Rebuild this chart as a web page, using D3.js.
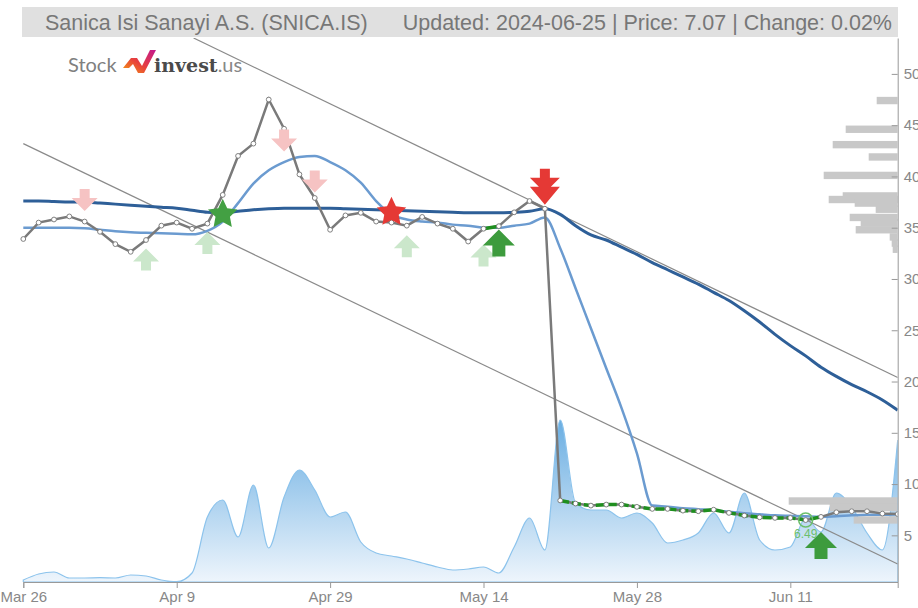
<!DOCTYPE html>
<html>
<head>
<meta charset="utf-8">
<script src="https://cdn.jsdelivr.net/npm/d3@7"></script>
<style>
    body { margin: 0; background: #fff; }
    svg { display: block; font-family: "Liberation Sans", Arial, sans-serif; }
    .axis path, .axis line { stroke: #999; }
    .axis text { fill: #888; font-size: 15px; }
</style>
</head>
<body>
<svg id="chart" width="918" height="608"></svg>
<script>
var dates = ["2024-03-26","2024-03-27","2024-03-28","2024-03-29","2024-04-01","2024-04-02","2024-04-03","2024-04-04","2024-04-05","2024-04-08",
    "2024-04-09","2024-04-15","2024-04-16","2024-04-17","2024-04-18","2024-04-19","2024-04-22","2024-04-24","2024-04-25","2024-04-26",
    "2024-04-29","2024-04-30","2024-05-02","2024-05-03","2024-05-06","2024-05-07","2024-05-08","2024-05-09","2024-05-10","2024-05-13",
    "2024-05-14","2024-05-15","2024-05-16","2024-05-17","2024-05-20","2024-05-21","2024-05-22","2024-05-23","2024-05-24","2024-05-27",
    "2024-05-28","2024-05-29","2024-05-30","2024-05-31","2024-06-03","2024-06-04","2024-06-05","2024-06-06","2024-06-07","2024-06-10",
    "2024-06-11","2024-06-12","2024-06-13","2024-06-14","2024-06-20","2024-06-21","2024-06-24","2024-06-25"];

var close = [33.9, 35.5, 35.8, 36.1, 35.6, 34.6, 33.4, 32.65, 33.8, 35.2,
    35.5, 34.9, 35.4, 38.2, 42.0, 43.2, 47.5, 44.65, 40.2, 37.9,
    34.8, 36.2, 36.45, 35.6, 35.5, 35.2, 36.05, 35.4, 34.9, 33.65,
    34.9, 35.15, 36.5, 37.6, 36.85, 8.4, 8.1, 7.9, 8.0, 8.0,
    7.78, 7.58, 7.58, 7.41, 7.35, 7.5, 7.19, 6.93, 6.76, 6.7,
    6.7, 6.49, 6.8, 7.25, 7.35, 7.35, 7.12, 7.07];

var maShort = [35.0, 35.0, 35.0, 35.0, 34.95, 34.8, 34.65, 34.55, 34.5, 34.45,
    34.4, 34.35, 34.7, 35.6, 37.4, 39.3, 40.6, 41.4, 41.9, 42.0,
    41.4, 40.6, 39.4, 37.6, 36.3, 35.8, 35.6, 35.5, 35.3, 35.2,
    35.0, 35.0, 35.2, 35.4, 36.0, 33.0, 29.1, 25.2, 21.3, 17.4,
    13.0, 7.9, 7.8, 7.65, 7.55, 7.45, 7.3, 7.15, 7.05, 6.95,
    6.9, 6.85, 6.8, 6.85, 6.95, 7.0, 7.0, 7.05];

var maLong = [37.6, 37.6, 37.55, 37.5, 37.5, 37.4, 37.3, 37.2, 37.1, 37.0,
    36.9, 36.7, 36.5, 36.45, 36.6, 36.75, 36.85, 36.9, 36.9, 36.9,
    36.9, 36.85, 36.8, 36.75, 36.7, 36.65, 36.6, 36.55, 36.5, 36.45,
    36.45, 36.45, 36.5, 36.6, 36.85, 36.3, 35.2, 34.3, 33.8, 33.1,
    32.4, 31.6, 30.9, 30.2, 29.5, 28.7, 27.9, 26.9, 25.8, 24.6,
    23.5, 22.5, 21.4, 20.5, 19.7, 19.0, 18.2, 17.2];

// volume, thousands
var volume = [20, 80, 100, 40, 40, 43, 40, 70, 60, 20,
    3, 90, 650, 820, 450, 970, 340, 850, 1120, 920,
    650, 700, 400, 290, 260, 230, 190, 150, 120, 130,
    150, 90, 350, 640, 320, 1620, 790, 720, 720, 640,
    690, 590, 390, 420, 490, 690, 490, 890, 420, 320,
    350, 640, 500, 890, 750, 490, 320, 1420];

// price-volume profile
var profilePrice = [47.4, 44.6, 43.1, 41.9, 40.1, 38.1, 37.75, 37.4, 36.8, 36.0, 35.5, 34.8, 34.1, 33.5, 32.9, 8.35, 7.7, 6.5];
var profileVol = [21, 52, 65, 29, 74, 55, 69, 43, 22, 48, 37, 42, 8, 6, 5, 109, 68, 44];

// trend channel: [start index, start value, end index, end value]
var channelTop = [11.1, 53.5, 57, 20.4];
var channelBottom = [0, 43.2, 57, 2.2];

// green highlighted stretches of the close line: [from index, to index]
var greenRuns = [[30, 31], [35, 52]];

var sellIdx = [4, 17, 19], sellLevel = [37.7, 43.5, 39.5];
var buyIdx = [8, 12, 25, 30], buyLevel = [31.9, 33.5, 33.2, 32.3];
var strongBuyIdx = [31, 52], strongBuyLevel = [33.5, 4.0];
var strongSellIdx = [34], strongSellLevel = [39.0];
var starIdx = [13, 24], starLevel = [36.4, 36.6], starKind = ["buy", "sell"];
var lowIdx = 51;

var yTicks = [5, 10, 15, 20, 25, 30, 35, 40, 45, 50];

(function() {
    var plot = { left: 23.3, right: 897.7, top: 38, bottom: 582 };
    var svg = d3.select("#chart");

    var x = d3.scalePoint().domain(dates).range([plot.left, plot.right]);
    var y = d3.scaleLinear().domain([0.45, 53.5]).range([plot.bottom, plot.top]);
    var yVol = d3.scaleLinear().domain([0, 3500]).range([plot.bottom, plot.bottom - 350]);
    var xi = function(i) { return x(dates[0]) + i * x.step(); };

    var parse = d3.timeParse("%Y-%m-%d");
    var fmt = d3.timeFormat("%b %-d");

    var defs = svg.append("defs");
    defs.append("clipPath").attr("id", "plot-clip")
        .append("rect")
        .attr("x", 0).attr("y", plot.top)
        .attr("width", plot.right).attr("height", plot.bottom - plot.top);

    var grad = defs.append("linearGradient")
        .attr("id", "vol-grad")
        .attr("gradientUnits", "userSpaceOnUse")
        .attr("x1", 0).attr("x2", 0)
        .attr("y1", yVol(1620)).attr("y2", plot.bottom);
    grad.append("stop").attr("offset", 0).attr("stop-color", "#6aaee2");
    grad.append("stop").attr("offset", 1).attr("stop-color", "#eef5fc");

    // title bar
    svg.append("rect")
        .attr("x", 22).attr("y", 7)
        .attr("width", 876).attr("height", 30)
        .attr("fill", "#e0e0e0");
    svg.append("text")
        .attr("x", 45).attr("y", 29.5)
        .attr("fill", "#777")
        .style("font-size", "21.5px")
        .text("Sanica Isi Sanayi A.S. (SNICA.IS)");
    svg.append("text")
        .attr("x", 892).attr("y", 29.5)
        .attr("text-anchor", "end")
        .attr("fill", "#777")
        .style("font-size", "21.5px")
        .text("Updated: 2024-06-25 | Price: 7.07 | Change: 0.02%");

    // logo
    var logo = svg.append("g").attr("class", "logo");
    logo.append("text")
        .attr("x", 68).attr("y", 72)
        .attr("fill", "#808080")
        .style("font-family", "Lato, 'Open Sans', sans-serif")
        .style("font-size", "20px")
        .text("Stock");
    var logoGrad = defs.append("linearGradient").attr("id", "logo-grad")
        .attr("x1", 0).attr("x2", 1).attr("y1", 1).attr("y2", 0);
    logoGrad.append("stop").attr("offset", 0).attr("stop-color", "#f39c12");
    logoGrad.append("stop").attr("offset", 0.45).attr("stop-color", "#e8413c");
    logoGrad.append("stop").attr("offset", 1).attr("stop-color", "#c2188f");
    logo.append("path")
        .attr("d", "M123,68L131,58L137,58L142,66L150,50L156,50L144,73L138,73L133,64L129,68Z")
        .attr("fill", "url(#logo-grad)");
    logo.append("text")
        .attr("x", 154).attr("y", 72)
        .attr("fill", "#4a4a4a")
        .style("font-family", "'DejaVu Serif', serif")
        .style("font-weight", "bold")
        .style("font-size", "19px")
        .text("invest")
        .append("tspan")
        .attr("fill", "#888")
        .style("font-weight", "normal")
        .style("font-family", "Lato, sans-serif")
        .style("font-size", "20px")
        .text(".us");

    var layer = svg.append("g").attr("clip-path", "url(#plot-clip)");

    // volume area
    var area = d3.area()
        .x(function(d, i) { return xi(i); })
        .y0(plot.bottom)
        .y1(function(d) { return yVol(d); })
        .curve(d3.curveMonotoneX);
    layer.append("path")
        .datum(volume)
        .attr("d", area)
        .attr("fill", "url(#vol-grad)")
        .attr("stroke", "#8cc3ec")
        .attr("stroke-width", 1.2);

    // price profile bars
    var barH = y(0) - y(0.72);
    layer.selectAll(".profile")
        .data(profilePrice)
        .enter().append("rect")
        .attr("class", "profile")
        .attr("x", function(d, i) { return plot.right - profileVol[i]; })
        .attr("y", function(d) { return y(d) - barH / 2; })
        .attr("width", function(d, i) { return profileVol[i]; })
        .attr("height", barH)
        .attr("fill", "#c8c8c8");

    // trend channel
    [channelTop, channelBottom].forEach(function(c) {
        layer.append("line")
            .attr("x1", xi(c[0])).attr("y1", y(c[1]))
            .attr("x2", xi(c[2])).attr("y2", y(c[3]))
            .attr("stroke", "#8a8a8a")
            .attr("stroke-width", 1.2);
    });

    var lineOf = function(values) {
        return d3.line()
            .x(function(d, i) { return xi(i); })
            .y(function(d) { return y(d); })
            .curve(d3.curveMonotoneX)(values);
    };

    layer.append("path")
        .attr("d", lineOf(maLong))
        .attr("fill", "none")
        .attr("stroke", "#2e5f98")
        .attr("stroke-width", 3);

    layer.append("path")
        .attr("d", lineOf(maShort))
        .attr("fill", "none")
        .attr("stroke", "#6b9bd0")
        .attr("stroke-width", 2.5);

    var priceLine = d3.line()
        .x(function(d, i) { return xi(i); })
        .y(function(d) { return y(d); });
    layer.append("path")
        .attr("d", priceLine(close))
        .attr("fill", "none")
        .attr("stroke", "#7a7a7a")
        .attr("stroke-width", 2.5);

    greenRuns.forEach(function(run) {
        var pts = [];
        for (var i = run[0]; i <= run[1]; i++) pts.push([xi(i), y(close[i])]);
        layer.append("path")
            .attr("d", d3.line()(pts))
            .attr("fill", "none")
            .attr("stroke", "#1f8f1f")
            .attr("stroke-width", 3.5)
            .attr("stroke-dasharray", run[1] - run[0] > 2 ? "9,3" : null);
    });

    layer.selectAll(".pt")
        .data(close)
        .enter().append("circle")
        .attr("class", "pt")
        .attr("cx", function(d, i) { return xi(i); })
        .attr("cy", function(d) { return y(d); })
        .attr("r", 2.4)
        .attr("fill", "#fff")
        .attr("stroke", "#808080")
        .attr("stroke-width", 1);

    // signal markers
    function arrowPath(w, h, hh, sw) {
        var t = -h / 2, b = h / 2, m = t + hh;
        return "M0," + t + "L" + (w / 2) + "," + m + "L" + (sw / 2) + "," + m +
            "L" + (sw / 2) + "," + b + "L" + (-sw / 2) + "," + b +
            "L" + (-sw / 2) + "," + m + "L" + (-w / 2) + "," + m + "Z";
    }
    function starPath(outer, inner) {
        var pts = [];
        for (var k = 0; k < 10; k++) {
            var r = k % 2 ? inner : outer;
            var a = Math.PI * k / 5 - Math.PI / 2;
            pts.push([r * Math.cos(a), r * Math.sin(a)]);
        }
        return d3.line()(pts) + "Z";
    }
    var marks = svg.append("g").attr("class", "marks");

    function addArrows(idx, lvl, color, down, dims) {
        idx.forEach(function(i, k) {
            marks.append("path")
                .attr("d", arrowPath(dims[0], dims[1], dims[2], dims[3]))
                .attr("transform", "translate(" + xi(i) + "," + y(lvl[k]) + ")" + (down ? " scale(1,-1)" : ""))
                .attr("fill", color);
        });
    }
    addArrows(sellIdx, sellLevel, "#f6c3c3", true, [26, 22, 13, 10]);
    addArrows(buyIdx, buyLevel, "#cbe7cb", false, [26, 22, 13, 10]);
    addArrows(strongBuyIdx, strongBuyLevel, "#3d9b3d", false, [32, 27, 16, 13]);

    strongSellIdx.forEach(function(i, k) {
        marks.append("path")
            .attr("d", "M-5,-18L5,-18L5,-9L15,-9L6,0L15,0L0,18L-15,0L-6,0L-15,-9L-5,-9Z")
            .attr("transform", "translate(" + xi(i) + "," + y(strongSellLevel[k]) + ")")
            .attr("fill", "#e53935");
    });

    starIdx.forEach(function(i, k) {
        marks.append("path")
            .attr("d", starPath(15.5, 7.6))
            .attr("transform", "translate(" + xi(i) + "," + (y(starLevel[k]) + 1) + ")")
            .attr("fill", starKind[k] === "buy" ? "#43a043" : "#e53935");
    });

    marks.append("circle")
        .attr("cx", xi(lowIdx)).attr("cy", y(close[lowIdx]))
        .attr("r", 7)
        .attr("fill", "none")
        .attr("stroke", "#6cbf6c")
        .attr("stroke-width", 1.5);
    marks.append("text")
        .attr("x", xi(lowIdx)).attr("y", y(close[lowIdx]) + 18)
        .attr("text-anchor", "middle")
        .attr("fill", "#6cbf6c")
        .style("font-size", "12px")
        .text(d3.format(".2f")(close[lowIdx]));

    // axes
    svg.append("g")
        .attr("class", "axis")
        .attr("transform", "translate(0," + plot.bottom + ")")
        .call(d3.axisBottom(x)
            .tickValues(dates.filter(function(d, i) { return i % 10 === 0; }))
            .tickFormat(function(d) { return fmt(parse(d)); })
            .tickSize(6));

    svg.append("g")
        .attr("class", "axis")
        .attr("transform", "translate(" + plot.right + ",0)")
        .call(d3.axisRight(y)
            .tickValues(yTicks)
            .tickSize(-6)
            .tickSizeOuter(0)
            .tickPadding(6));
})();
</script>
</body>
</html>
